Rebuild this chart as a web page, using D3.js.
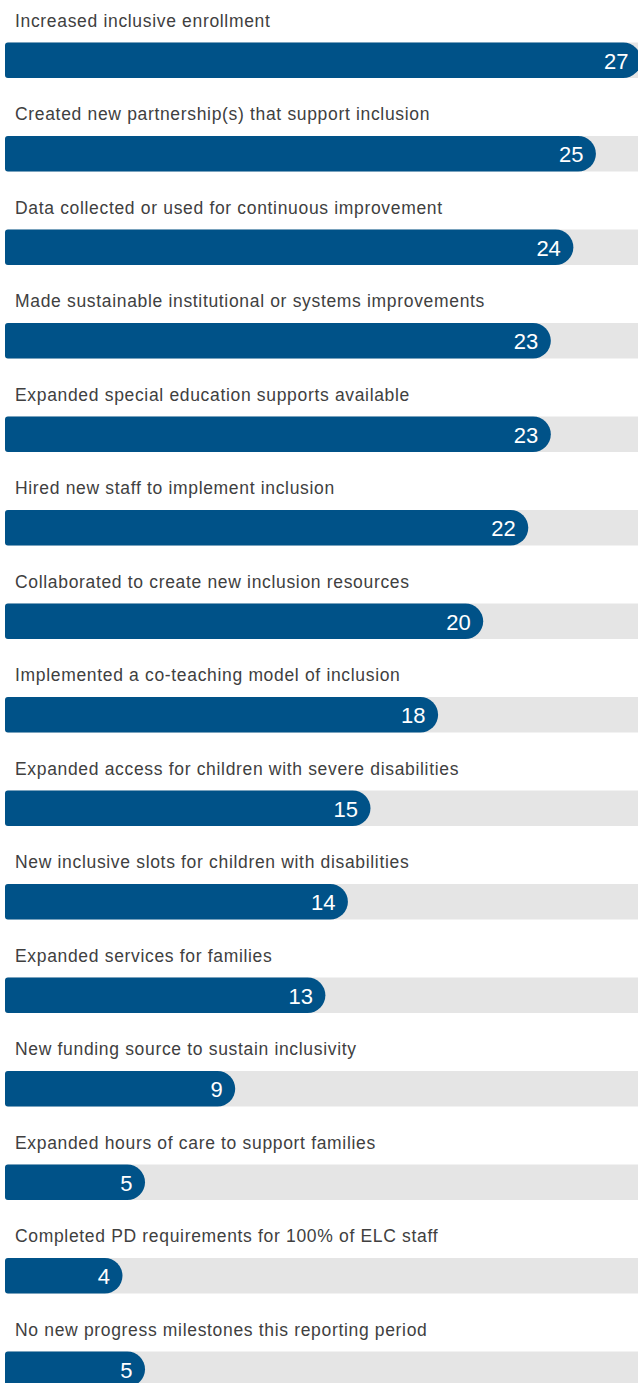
<!DOCTYPE html>
<html><head><meta charset="utf-8">
<script src="https://cdn.jsdelivr.net/npm/d3@7"></script>
<style>html,body{margin:0;padding:0;background:#fff;overflow:hidden}</style>
</head><body>
<svg id="c" width="638" height="1383"></svg>
<script>
const categories = [
  "Increased inclusive enrollment",
  "Created new partnership(s) that support inclusion",
  "Data collected or used for continuous improvement",
  "Made sustainable institutional or systems improvements",
  "Expanded special education supports available",
  "Hired new staff to implement inclusion",
  "Collaborated to create new inclusion resources",
  "Implemented a co-teaching model of inclusion",
  "Expanded access for children with severe disabilities",
  "New inclusive slots for children with disabilities",
  "Expanded services for families",
  "New funding source to sustain inclusivity",
  "Expanded hours of care to support families",
  "Completed PD requirements for 100% of ELC staff",
  "No new progress milestones this reporting period"
];
const values = [27, 25, 24, 23, 23, 22, 20, 18, 15, 14, 13, 9, 5, 4, 5];
const maxValue = 27;

const svg = d3.select("#c");
const x = d3.scaleLinear().domain([0, maxValue]).range([32.3, 641]);
const y = d3.scaleBand().domain(categories).range([0, 93.5 * categories.length]).paddingInner(0).paddingOuter(0);
const barLeft = 5, barH = 35.5, barOff = 42.5, r = barH / 2;

function roundedBar(x0, x1, yTop) {
  const p = d3.path();
  const lr = 3;
  p.moveTo(x0 + lr, yTop);
  p.lineTo(x1 - r, yTop);
  p.arc(x1 - r, yTop + r, r, -Math.PI / 2, Math.PI / 2);
  p.lineTo(x0 + lr, yTop + barH);
  p.arcTo(x0, yTop + barH, x0, yTop + barH - lr, lr);
  p.lineTo(x0, yTop + lr);
  p.arcTo(x0, yTop, x0 + lr, yTop, lr);
  p.closePath();
  return p.toString();
}

const rows = svg.selectAll("g.row").data(categories).join("g")
  .attr("class", "row")
  .attr("transform", d => `translate(0,${y(d)})`);

rows.append("text")
  .attr("x", 15).attr("y", 26.5)
  .attr("font-family", "Liberation Sans, Arial, sans-serif")
  .attr("font-size", 17.5)
  .attr("letter-spacing", 0.67)
  .attr("fill", "#404040")
  .text(d => d);

rows.append("path")
  .attr("d", () => roundedBar(barLeft, x(maxValue) + 20, barOff))
  .attr("fill", "#e5e5e5");

rows.append("path")
  .attr("d", (d, i) => roundedBar(barLeft, x(values[i]), barOff))
  .attr("fill", "#005288");

rows.append("text")
  .attr("x", (d, i) => x(values[i]) - 12.5)
  .attr("y", barOff + barH / 2 + 8.3)
  .attr("text-anchor", "end")
  .attr("font-family", "Liberation Sans, Arial, sans-serif")
  .attr("font-size", 22)
  .attr("fill", "#fff")
  .text((d, i) => values[i]);
</script>
</body></html>
